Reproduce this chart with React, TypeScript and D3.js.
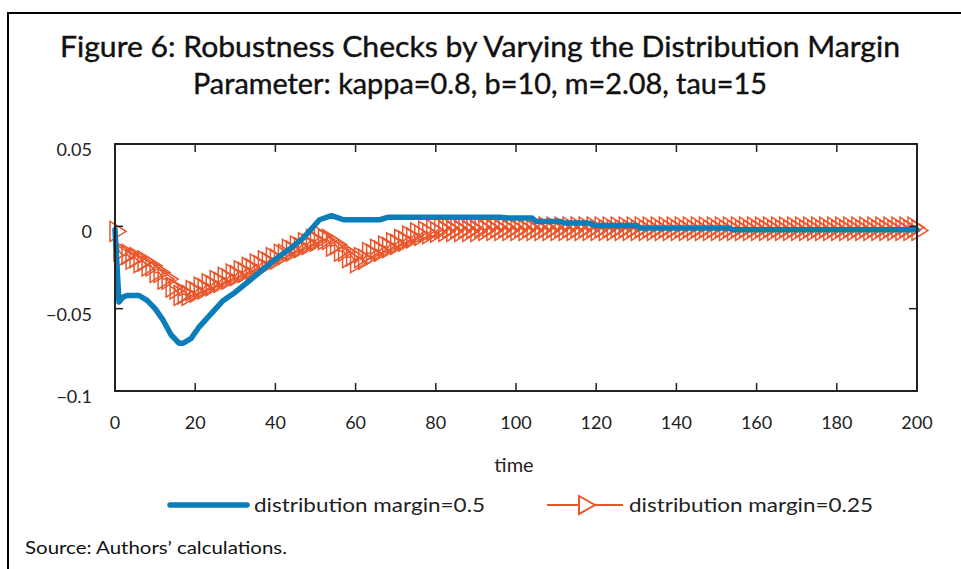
import React from "react";
import * as d3 from "d3";

const W = 961;
const H = 569;

// distribution margin = 0.5 (solid blue line), read at break points
const blueTime = [0, 1, 2, 3, 6, 8, 10, 12, 14, 16, 17, 19, 21, 24, 27, 30, 34, 37, 40, 44, 47, 51, 54, 57, 66, 68, 74, 96, 98, 104, 105, 111, 112, 118, 120, 130, 131, 153, 154, 200];
const blueValues = [-0.002, -0.046, -0.043, -0.042, -0.042, -0.045, -0.05, -0.057, -0.066, -0.071, -0.071, -0.068, -0.061, -0.053, -0.045, -0.04, -0.032, -0.026, -0.02, -0.013, -0.007, 0.004, 0.0065, 0.004, 0.004, 0.0055, 0.0055, 0.0055, 0.005, 0.005, 0.003, 0.003, 0.002, 0.002, 0.0005, 0.0005, -0.001, -0.001, -0.002, -0.002];

// distribution margin = 0.25 (orange, one marker per period 0..200)
const orangeValues = [
  -0.003, -0.015, -0.018, -0.017, -0.02, -0.019, -0.022, -0.021, -0.024, -0.024,
  -0.028, -0.028, -0.032, -0.032, -0.037, -0.038, -0.042, -0.041, -0.042, -0.039,
  -0.04, -0.037, -0.038, -0.035, -0.036, -0.033, -0.034, -0.031, -0.032, -0.029,
  -0.03, -0.027, -0.028, -0.025, -0.026, -0.023, -0.024, -0.021, -0.022, -0.019,
  -0.02, -0.017, -0.017, -0.014, -0.015, -0.012, -0.013, -0.01, -0.011, -0.008,
  -0.009, -0.006, -0.008, -0.008, -0.012, -0.011, -0.015, -0.015, -0.019, -0.018,
  -0.022, -0.019, -0.02, -0.016, -0.017, -0.014, -0.015, -0.012, -0.013, -0.01,
  -0.011, -0.008, -0.009, -0.006, -0.007, -0.004, -0.0055, -0.003, -0.0045, -0.002,
  -0.0035, -0.001, -0.003, -0.001, -0.003, -0.001, -0.003, -0.001, -0.003, -0.001,
  -0.003, -0.0005, -0.0025, -0.0005, -0.0025, -0.0005, -0.0025, -0.0005, -0.0025, -0.0005,
  -0.0025, -0.0005, -0.0025, -0.0005, -0.0025, -0.0005, -0.0025, -0.0005, -0.0025, -0.0005,
  -0.0025, -0.0005, -0.0025, -0.0005, -0.0025, -0.0005, -0.0025, -0.0005, -0.0025, -0.0005,
  -0.0025, -0.0005, -0.0025, -0.0005, -0.0025, -0.0005, -0.0025, -0.0005, -0.0025, -0.0005,
  -0.0025, -0.0005, -0.0025, -0.0005, -0.0025, -0.0005, -0.0025, -0.0005, -0.0025, -0.0005,
  -0.0025, -0.0005, -0.0025, -0.0005, -0.0025, -0.0005, -0.0025, -0.0005, -0.0025, -0.0005,
  -0.0025, -0.0005, -0.0025, -0.0005, -0.0025, -0.0005, -0.0025, -0.0005, -0.0025, -0.0005,
  -0.0025, -0.0005, -0.0025, -0.0005, -0.0025, -0.0005, -0.0025, -0.0005, -0.0025, -0.0005,
  -0.0025, -0.0005, -0.0025, -0.0005, -0.0025, -0.0005, -0.0025, -0.0005, -0.0025, -0.0005,
  -0.0025, -0.0005, -0.0025, -0.0005, -0.0025, -0.0005, -0.0025, -0.0005, -0.0025, -0.0005,
  -0.0025, -0.0005, -0.0025, -0.0005, -0.0025, -0.0005, -0.0025, -0.0005, -0.0025, -0.0005,
  -0.0025,
];

const xTicks = [0, 20, 40, 60, 80, 100, 120, 140, 160, 180, 200];
const yTicks = [0.05, 0, -0.05, -0.1];
const yTickLabels = ["0.05", "0", "\u22120.05", "\u22120.1"];

const titleLines = [
  "Figure 6: Robustness Checks by Varying the Distribution Margin",
  "Parameter: kappa=0.8, b=10, m=2.08, tau=15",
];
const legendLabels = ["distribution margin=0.5", "distribution margin=0.25"];
const sourceNote = "Source: Authors\u2019 calculations.";

const BLUE = "#0b7db9";
const ORANGE = "#e9562b";
const FONT = "Lato, 'Open Sans', sans-serif";

const tri = (cx: number, cy: number, h = 10) =>
  `M${cx - 5},${cy - h}L${cx + 11},${cy}L${cx - 5},${cy + h}Z`;

export default function App() {
  const plot = { left: 115, right: 917, top: 144, bottom: 391 };
  const x = d3.scaleLinear().domain([0, 200]).range([plot.left, plot.right]);
  const y = d3.scaleLinear().domain([-0.1, 0.05]).range([plot.bottom, plot.top]);

  const blueLine = d3
    .line<number>()
    .x((_, i) => x(blueTime[i]))
    .y((d) => y(d))(blueValues);
  const orangeLine = d3
    .line<number>()
    .x((_, i) => x(i))
    .y((d) => y(d))(orangeValues);

  const tickLen = 8;

  return (
    <svg
      width={W}
      height={H}
      style={{ position: "absolute", left: 0, top: 0, background: "#fff" }}
      fontFamily={FONT}
    >
      <rect width={W} height={H} fill="#fff" />
      {/* outer frame: top and left only */}
      <path d={`M8,${H}V13H${W}`} fill="none" stroke="#000" strokeWidth={2} />

      {titleLines.map((t, i) => (
        <text
          key={i}
          x={480}
          y={57 + i * 37}
          textAnchor="middle"
          fontSize={28}
          fill="#111"
          stroke="#111"
          strokeWidth={0.4}
          textLength={i === 0 ? 840 : 574}
          lengthAdjust="spacingAndGlyphs"
        >
          {t}
        </text>
      ))}

      {/* series */}
      <path d={orangeLine || ""} fill="none" stroke={ORANGE} strokeWidth={1.5} />
      {orangeValues.map((v, i) => (
        <path key={i} d={tri(x(i), y(v))} fill="none" stroke={ORANGE} strokeWidth={1.5} />
      ))}
      <path d={blueLine || ""} fill="none" stroke={BLUE} strokeWidth={5.5} strokeLinejoin="round" strokeLinecap="round" />

      {/* axes box */}
      <rect
        x={plot.left}
        y={plot.top}
        width={plot.right - plot.left}
        height={plot.bottom - plot.top}
        fill="none"
        stroke="#222"
        strokeWidth={2}
      />
      {xTicks.map((t) => (
        <g key={t}>
          <line x1={x(t)} x2={x(t)} y1={plot.bottom} y2={plot.bottom - tickLen} stroke="#222" strokeWidth={1.5} />
          <line x1={x(t)} x2={x(t)} y1={plot.top} y2={plot.top + tickLen} stroke="#222" strokeWidth={1.5} />
          <text x={x(t)} y={429} textAnchor="middle" fontSize={18} fill="#222">
            {t}
          </text>
        </g>
      ))}
      {yTicks.map((t, i) => (
        <g key={t}>
          <line x1={plot.left} x2={plot.left + tickLen} y1={y(t)} y2={y(t)} stroke="#222" strokeWidth={1.5} />
          <line x1={plot.right} x2={plot.right - tickLen} y1={y(t)} y2={y(t)} stroke="#222" strokeWidth={1.5} />
          <text x={92} y={y(t) + 12} textAnchor="end" fontSize={18} fill="#222">
            {yTickLabels[i]}
          </text>
        </g>
      ))}
      <text x={514} y={472} textAnchor="middle" fontSize={20} fill="#222">
        time
      </text>

      {/* legend */}
      <line x1={170} x2={247} y1={505} y2={505} stroke={BLUE} strokeWidth={5.5} strokeLinecap="round" />
      <text x={254} y={512} fontSize={20} fill="#222" textLength={231} lengthAdjust="spacingAndGlyphs">
        {legendLabels[0]}
      </text>
      <line x1={547} x2={623} y1={505} y2={505} stroke={ORANGE} strokeWidth={2} />
      <path d={tri(584, 505, 9)} fill="#fff" stroke={ORANGE} strokeWidth={2} />
      <text x={629} y={512} fontSize={20} fill="#222" textLength={244} lengthAdjust="spacingAndGlyphs">
        {legendLabels[1]}
      </text>

      <text x={25} y={554} fontSize={18} fill="#111" textLength={262} lengthAdjust="spacingAndGlyphs">
        {sourceNote}
      </text>
    </svg>
  );
}
